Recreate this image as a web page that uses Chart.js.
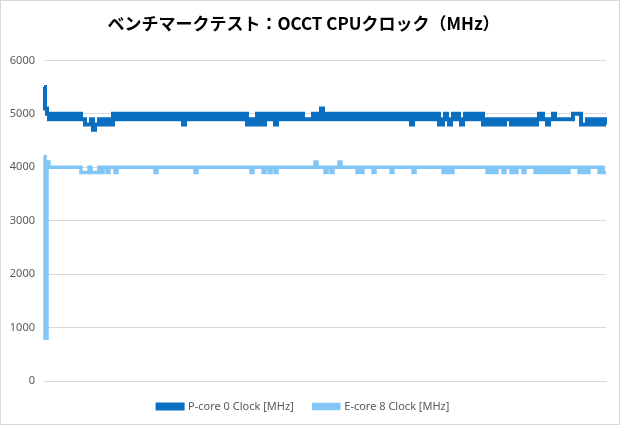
<!DOCTYPE html>
<html>
<head>
<meta charset="utf-8">
<script src="https://cdn.jsdelivr.net/npm/chart.js@4/dist/chart.umd.min.js"></script>
<style>
  html, body { margin: 0; padding: 0; background: #fff; }
  #wrap { width: 620px; height: 425px; box-sizing: border-box; border: 1px solid #d9d9d9; position: relative; }
  #clockChart { display: block; }
</style>
</head>
<body>
<div id="wrap"><canvas id="clockChart" width="618" height="423"></canvas></div>
<script>
// OCCT clock log, one sample per step
const pCore = [
  5500, 5100, 5000, 4900, 5000, 4900, 5000, 4900, 5000, 4900, 5000, 4900, 5000, 4900, 5000, 4900, 5000, 4900, 5000, 4900,
  4900, 4800, 4800, 4800, 4900, 4700, 4800, 4800, 4900, 4800, 4900, 4900, 4800, 4900, 4800, 5000, 4900, 5000, 4900, 5000,
  4900, 5000, 4900, 5000, 4900, 5000, 4900, 5000, 4900, 5000, 4900, 5000, 4900, 5000, 4900, 5000, 4900, 5000, 4900, 5000,
  4900, 5000, 4900, 5000, 4900, 5000, 4900, 5000, 4900, 5000, 4800, 5000, 4900, 5000, 4900, 5000, 4900, 5000, 4900, 5000,
  4900, 5000, 4900, 5000, 4900, 5000, 4900, 5000, 4900, 5000, 4900, 5000, 4900, 5000, 4900, 5000, 4900, 5000, 4900, 5000,
  4900, 5000, 4800, 4800, 4900, 4800, 4800, 5000, 4800, 5000, 4800, 5000, 4900, 5000, 4900, 5000, 4800, 5000, 4900, 5000,
  4900, 5000, 4900, 5000, 4900, 5000, 4900, 5000, 4900, 5000, 4900, 4900, 4900, 4900, 4900, 5000, 4900, 5000, 4900, 5100,
  4900, 5000, 4900, 5000, 4900, 5000, 4900, 5000, 4900, 5000, 4900, 5000, 4900, 5000, 4900, 5000, 4900, 5000, 4900, 5000,
  4900, 5000, 4900, 5000, 4900, 5000, 4900, 5000, 4900, 5000, 4900, 5000, 4900, 5000, 4900, 5000, 4900, 5000, 4900, 5000,
  4900, 5000, 4900, 5000, 4800, 5000, 4900, 5000, 4900, 5000, 4900, 5000, 4900, 5000, 4900, 5000, 4900, 5000, 4800, 4800,
  4900, 5000, 4900, 4800, 4900, 5000, 4900, 5000, 4900, 4800, 4900, 5000, 4900, 5000, 4900, 5000, 4900, 5000, 4900, 5000,
  4800, 4900, 4800, 4900, 4900, 4800, 4900, 4900, 4800, 4900, 4800, 4900, 4900, 4900, 4800, 4900, 4800, 4900, 4800, 4900,
  4800, 4900, 4800, 4900, 4800, 4900, 4800, 4900, 5000, 5000, 4900, 4900, 4800, 4900, 4900, 5000, 4900, 4900, 4900, 4900,
  4900, 4900, 4900, 4900, 4900, 5000, 5000, 5000, 5000, 4800, 4800, 4800, 4900, 4800, 4900, 4800, 4900, 4800, 4900, 4800,
  4900, 4800
]

const eCore = [
  4200, 800, 4100, 4000, 4000, 4000, 4000, 4000, 4000, 4000, 4000, 4000, 4000, 4000, 4000, 4000, 4000, 4000, 4000, 3900,
  3900, 3900, 3900, 4000, 3900, 3900, 3900, 3900, 4000, 3900, 4000, 4000, 3900, 4000, 4000, 4000, 3900, 4000, 4000, 4000,
  4000, 4000, 4000, 4000, 4000, 4000, 4000, 4000, 4000, 4000, 4000, 4000, 4000, 4000, 4000, 4000, 3900, 4000, 4000, 4000,
  4000, 4000, 4000, 4000, 4000, 4000, 4000, 4000, 4000, 4000, 4000, 4000, 4000, 4000, 4000, 4000, 3900, 4000, 4000, 4000,
  4000, 4000, 4000, 4000, 4000, 4000, 4000, 4000, 4000, 4000, 4000, 4000, 4000, 4000, 4000, 4000, 4000, 4000, 4000, 4000,
  4000, 4000, 4000, 4000, 3900, 4000, 4000, 4000, 4000, 4000, 3900, 4000, 4000, 3900, 4000, 4000, 3900, 4000, 4000, 4000,
  4000, 4000, 4000, 4000, 4000, 4000, 4000, 4000, 4000, 4000, 4000, 4000, 4000, 4000, 4000, 4000, 4100, 4000, 4000, 4000,
  4000, 3900, 4000, 4000, 3900, 4000, 4000, 4000, 4100, 4000, 4000, 4000, 4000, 4000, 4000, 4000, 4000, 3900, 4000, 3900,
  4000, 4000, 4000, 4000, 4000, 3900, 4000, 4000, 4000, 4000, 4000, 4000, 4000, 4000, 3900, 4000, 4000, 4000, 4000, 4000,
  4000, 4000, 4000, 4000, 4000, 3900, 4000, 4000, 4000, 4000, 4000, 4000, 4000, 4000, 4000, 4000, 4000, 4000, 4000, 4000,
  3900, 4000, 3900, 4000, 3900, 4000, 4000, 4000, 4000, 4000, 4000, 4000, 4000, 4000, 4000, 4000, 4000, 4000, 4000, 4000,
  4000, 4000, 3900, 4000, 3900, 4000, 3900, 4000, 4000, 4000, 3900, 4000, 4000, 4000, 3900, 4000, 3900, 4000, 4000, 4000,
  3900, 4000, 4000, 4000, 4000, 4000, 3900, 4000, 3900, 4000, 3900, 4000, 3900, 4000, 3900, 4000, 3900, 4000, 3900, 4000,
  3900, 4000, 3900, 4000, 4000, 4000, 4000, 4000, 3900, 4000, 3900, 4000, 3900, 4000, 4000, 4000, 4000, 4000, 3900, 4000,
  3900, 3900
]

const yTicks = [0, 1000, 2000, 3000, 4000, 5000, 6000]
const seriesNames = ["P-core 0 Clock [MHz]", "E-core 8 Clock [MHz]"]
const sampleLabels = pCore.map((_, i) => String(i + 1))

const ctx = document.getElementById("clockChart")
new Chart(ctx, {
  type: "line",
  data: {
    labels: sampleLabels,
    datasets: [
      {
        label: seriesNames[0],
        data: pCore,
        borderColor: "#0a6fc0",
        backgroundColor: "#0a6fc0",
        borderWidth: 4,
        borderJoinStyle: "miter",
        stepped: "middle",
        pointRadius: 0,
      },
      {
        label: seriesNames[1],
        data: eCore,
        borderColor: "#82c6f6",
        backgroundColor: "#82c6f6",
        borderWidth: 3.5,
        borderJoinStyle: "miter",
        stepped: "middle",
        pointRadius: 0,
      },
    ],
  },
  options: {
    responsive: false,
    animation: false,
    layout: {
      padding: { left: 0, right: 13, top: 0, bottom: 2 },
    },
    plugins: {
      title: {
        display: true,
        text: "ベンチマークテスト：OCCT CPUクロック（MHz）",
        color: "#000",
        font: { family: "'Noto Sans CJK JP', sans-serif", size: 17, weight: "bold" },
        padding: { top: 12, bottom: 27 },
      },
      legend: {
        position: "bottom",
        labels: {
          color: "#595959",
          font: { family: "'Noto Sans', sans-serif", size: 11 },
          boxWidth: 25,
          boxHeight: 4,
          padding: 20,
        },
      },
      tooltip: { enabled: false },
    },
    scales: {
      x: {
        grid: { display: false, drawTicks: false },
        border: { color: "#d9d9d9" },
        ticks: { display: false },
      },
      y: {
        min: 0,
        max: 6000,
        afterBuildTicks: (axis) => {
          axis.ticks = yTicks.map((v) => ({ value: v }))
        },
        afterFit: (axis) => {
          axis.width = 43
        },
        grid: { color: "#d9d9d9", drawTicks: false },
        border: { display: false },
        ticks: {
          color: "#595959",
          padding: 9,
          font: { family: "'Noto Sans', sans-serif", size: 11 },
          callback: (value) => String(value),
        },
      },
    },
  },
})
</script>
</body>
</html>
